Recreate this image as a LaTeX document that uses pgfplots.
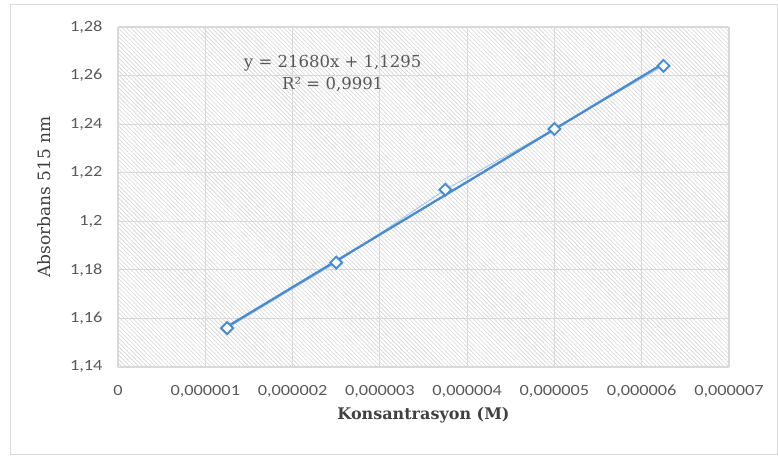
\documentclass[border=0pt]{standalone}
\usepackage{fontspec}
\usepackage{pgfplots}
\pgfplotsset{compat=1.18}
\usetikzlibrary{patterns.meta}
\setmainfont{DejaVu Serif}
\newfontfamily\tickfont[FakeStretch=1.18]{Carlito}
\definecolor{tickgray}{HTML}{595959}
\definecolor{labgray}{HTML}{404040}
\definecolor{gridgray}{HTML}{D9D9D9}
\definecolor{hatch}{HTML}{D4D4D4}
\definecolor{xlblue}{HTML}{5B9BD5}
\definecolor{trendblue}{HTML}{4A8BCB}
\begin{document}
\begin{tikzpicture}
\path (0pt,0pt) rectangle (778pt,457pt);
\draw[color=gridgray, line width=1pt] (10pt,2pt) rectangle (777pt,452pt);
\begin{axis}[
  at={(118pt,90pt)}, anchor=south west,
  scale only axis, width=611pt, height=340pt,
  xmin=0, xmax=0.000007, ymin=1.14, ymax=1.28,
  xtick={0,0.000001,0.000002,0.000003,0.000004,0.000005,0.000006,0.000007},
  xticklabels={0,{0,000001},{0,000002},{0,000003},{0,000004},{0,000005},{0,000006},{0,000007}},
  ytick={1.14,1.16,1.18,1.2,1.22,1.24,1.26,1.28},
  yticklabels={{1,14},{1,16},{1,18},{1,2},{1,22},{1,24},{1,26},{1,28}},
  scaled x ticks=false,
  axis line style={draw=none},
  tick style={draw=none},
  grid=major,
  major grid style={color=gridgray, line width=1.2pt},
  axis background/.style={pattern={Lines[angle=-45,distance=3pt,line width=0.6pt]}, pattern color=hatch},
  ticklabel style={font=\tickfont\fontsize{15.5}{16}\selectfont, text=tickgray},
  xticklabel style={yshift=-15pt},
  yticklabel style={xshift=-12pt},
  xlabel={\bfseries Konsantrasyon (M)},
  ylabel={Absorbans 515 nm},
  xlabel style={font=\fontsize{16}{18}\selectfont, text=labgray, yshift=-2pt},
  ylabel style={font=\fontsize{17}{19}\selectfont, text=labgray, yshift=12pt},
  clip=false,
]
\addplot[color=xlblue!55, line width=0.9pt] coordinates {
 (0.00000125,1.156) (0.0000025,1.183) (0.00000375,1.213) (0.000005,1.238) (0.00000625,1.264)};
\addplot[color=trendblue, line width=2.3pt] coordinates {
 (0.00000125,1.1566) (0.00000625,1.265)};
\addplot[only marks, mark=square*, mark size=4.2pt, mark options={rotate=45, draw=trendblue, fill=white, line width=1.9pt}] coordinates {
 (0.00000125,1.156) (0.0000025,1.183) (0.00000375,1.213) (0.000005,1.238) (0.00000625,1.264)};
\node[font=\fontsize{16.5}{22}\selectfont, text=tickgray, align=center, inner sep=0pt] at (axis cs:0.00000246,1.2609) {y = 21680x + 1,1295\\R² = 0,9991};
\end{axis}
\end{tikzpicture}
\end{document}
